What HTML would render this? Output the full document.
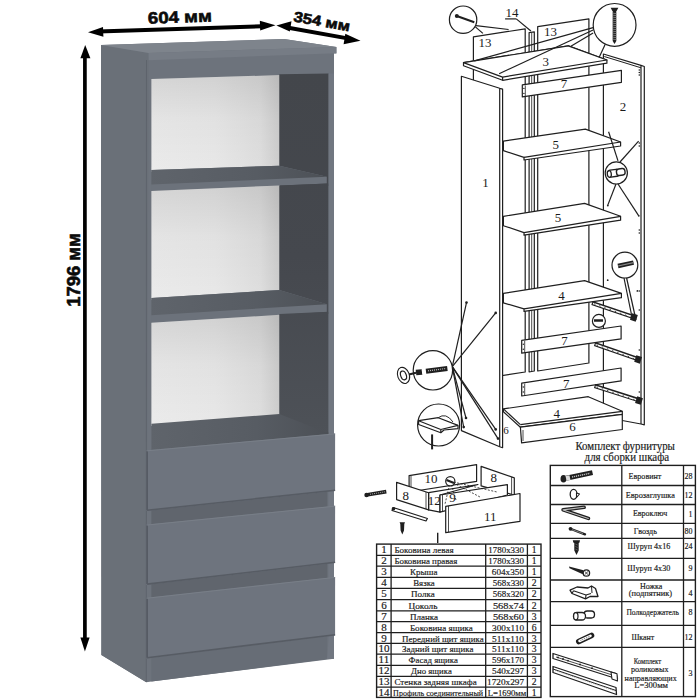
<!DOCTYPE html>
<html><head><meta charset="utf-8">
<style>
html,body{margin:0;padding:0;background:#fff;width:700px;height:700px;overflow:hidden}
svg{position:absolute;left:0;top:0;display:block}
.dim{font-family:"Liberation Sans",sans-serif;font-weight:bold;fill:#0a0a0a;stroke:#0a0a0a;stroke-width:0.6}
.lbl{font-family:"Liberation Serif",serif;fill:#1a1a1a}
.t{stroke:#1a1a1a;stroke-width:0.18}
</style></head><body>
<svg width="700" height="700" viewBox="0 0 700 700">
<defs>
<linearGradient id="wb" x1="0" y1="0" x2="1" y2="0">
<stop offset="0" stop-color="#ebebeb"/><stop offset="0.5" stop-color="#e8e8e8"/><stop offset="0.85" stop-color="#dedede"/><stop offset="1" stop-color="#cdcdcd"/>
</linearGradient>
<linearGradient id="sht" gradientUnits="userSpaceOnUse" x1="151" y1="0" x2="327" y2="0">
<stop offset="0" stop-color="#5f646b"/><stop offset="0.6" stop-color="#575c63"/><stop offset="1" stop-color="#4c5056"/>
</linearGradient>
<linearGradient id="wbv" x1="0" y1="0" x2="0" y2="1">
<stop offset="0" stop-color="#000" stop-opacity="0.10"/><stop offset="0.45" stop-color="#000" stop-opacity="0.03"/><stop offset="1" stop-color="#000" stop-opacity="0"/>
</linearGradient>
<linearGradient id="dk" gradientUnits="userSpaceOnUse" x1="0" y1="74" x2="0" y2="440">
<stop offset="0" stop-color="#43464b"/><stop offset="0.5" stop-color="#45484e"/><stop offset="1" stop-color="#4e5258"/>
</linearGradient>
</defs>
<rect width="700" height="700" fill="#fff"/>
<g id="bookcase">
<polygon points="101.0,45.0 284.0,39.0 336.4,47.0 336.4,53.5 334.0,53.5 334.0,658.8 151.4,681.6 146.3,682.2 101.4,655.0" fill="#6d737c" />
<polygon points="101.0,45.0 148.6,53.0 148.6,60.0 146.3,682.2 101.4,655.0" fill="#6a7078" />
<polygon points="101.0,45.0 284.0,39.0 336.4,47.0 148.6,53.0" fill="#7e848c" />
<polygon points="148.6,53.0 336.4,47.0 336.4,53.2 148.6,60.2" fill="#767c85" />
<line x1="146.5" y1="60.0" x2="146.3" y2="682.0" stroke="#5c6169" stroke-width="0.8" />
<polygon points="151.4,79.0 279.8,75.1 279.8,166.0 151.4,172.0" fill="url(#wb)" />
<polygon points="151.4,79.0 279.8,75.1 279.8,166.0 151.4,172.0" fill="url(#wbv)" />
<polygon points="279.3,74.2 328.6,73.6 328.6,186.0 279.3,186.0" fill="url(#dk)" />
<polygon points="151.4,170.0 279.3,165.7 326.8,176.8 326.8,183.6 151.4,191.4" fill="#6c727b" />
<polygon points="151.4,170.0 279.3,165.7 327.0,176.8 151.4,184.6" fill="url(#sht)" />
<polygon points="151.4,191.0 279.8,185.5 279.8,292.0 151.4,300.0" fill="url(#wb)" />
<polygon points="151.4,191.0 279.8,185.5 279.8,292.0 151.4,300.0" fill="url(#wbv)" />
<polygon points="279.3,185.5 328.6,183.4 328.6,314.0 279.3,314.0" fill="url(#dk)" />
<polygon points="151.4,298.0 279.3,290.0 326.8,304.3 326.8,312.0 151.4,322.9" fill="#6c727b" />
<polygon points="151.4,298.0 279.3,290.0 327.0,304.3 151.4,315.2" fill="url(#sht)" />
<polygon points="151.4,322.7 279.8,314.8 279.8,416.0 151.4,426.0" fill="url(#wb)" />
<polygon points="151.4,322.7 279.8,314.8 279.8,416.0 151.4,426.0" fill="url(#wbv)" />
<polygon points="279.3,314.0 328.6,311.8 328.6,440.0 279.3,440.0" fill="url(#dk)" />
<polygon points="151.4,423.7 279.3,414.1 325.3,432.1 328.6,432.1 328.6,445.0 151.4,460.0" fill="url(#sht)" />
<polygon points="328.6,73.6 334.0,73.4 334.0,658.8 327.0,659.0 328.6,640.0" fill="#717781" />
<polygon points="151.4,500.0 327.4,482.0 327.4,512.0 151.4,532.0" fill="#60656d" />
<polygon points="151.4,575.0 327.4,555.0 327.4,583.0 151.4,605.0" fill="#60656d" />
<polygon points="151.4,650.0 327.4,628.0 327.0,659.0 151.4,681.6" fill="#676d76" />
<polygon points="146.3,450.3 335.1,433.4 335.1,491.1 146.3,511.1" fill="#6e747e" />
<line x1="147.1" y1="451.3" x2="147.1" y2="510.3" stroke="#545961" stroke-width="1.6" />
<line x1="147.1" y1="510.3" x2="335.1" y2="490.3" stroke="#575c64" stroke-width="1.6" />
<line x1="147.3" y1="450.8" x2="335.1" y2="433.9" stroke="#7b818a" stroke-width="0.8" />
<polygon points="146.3,524.5 335.1,505.7 335.1,563.1 146.3,584.9" fill="#6e747e" />
<line x1="147.1" y1="525.5" x2="147.1" y2="584.1" stroke="#545961" stroke-width="1.6" />
<line x1="147.1" y1="584.1" x2="335.1" y2="562.3" stroke="#575c64" stroke-width="1.6" />
<line x1="147.3" y1="525.0" x2="335.1" y2="506.2" stroke="#7b818a" stroke-width="0.8" />
<polygon points="146.3,597.7 335.1,576.9 335.1,635.5 146.3,658.6" fill="#6e747e" />
<line x1="147.1" y1="598.7" x2="147.1" y2="657.8" stroke="#545961" stroke-width="1.6" />
<line x1="147.1" y1="657.8" x2="335.1" y2="634.7" stroke="#575c64" stroke-width="1.6" />
<line x1="147.3" y1="598.2" x2="335.1" y2="577.4" stroke="#7b818a" stroke-width="0.8" />
</g>
<g id="dims">
<line x1="98.0" y1="31.6" x2="262.0" y2="26.2" stroke="#000" stroke-width="4" />
<polygon points="88.0,32.3 103.0,27.0 103.4,36.8" fill="#000" />
<polygon points="275.5,25.3 259.8,20.8 260.2,30.4" fill="#000" />
<text class="dim" x="148" y="23.8" font-size="16.5" textLength="64" lengthAdjust="spacingAndGlyphs" transform="rotate(-2 148 23.8)">604 мм</text>
<line x1="287.0" y1="27.5" x2="349.0" y2="38.6" stroke="#000" stroke-width="4" />
<polygon points="276.4,25.4 291.5,21.2 289.8,31.6" fill="#000" />
<polygon points="360.5,40.8 345.3,33.8 343.6,44.2" fill="#000" />
<text class="dim" x="293" y="21.3" font-size="14.5" textLength="57" lengthAdjust="spacingAndGlyphs" transform="rotate(10.3 293 21.3)">354 мм</text>
<line x1="84.9" y1="56.0" x2="84.9" y2="640.0" stroke="#000" stroke-width="3.7" />
<polygon points="85.2,45.0 80.4,58.2 90.4,58.2" fill="#000" />
<polygon points="84.9,651.6 80.4,637.6 89.6,637.6" fill="#000" />
<text class="dim" x="79.6" y="306.8" font-size="17.5" textLength="73.4" lengthAdjust="spacingAndGlyphs" transform="rotate(-90 79.6 306.8)">1796 мм</text>
</g>
<g id="diagram">
<polygon points="473.4,36.9 525.2,28.8 525.2,372.0 473.4,380.0" fill="#fff" stroke="#1f1f1f" stroke-width="1.2" stroke-linejoin="round" />
<polygon points="537.7,26.6 588.9,18.9 588.9,363.0 537.7,371.0" fill="#fff" stroke="#1f1f1f" stroke-width="1.2" stroke-linejoin="round" />
<polygon points="529.1,32.6 534.3,31.8 534.3,371.0 529.1,372.0" fill="#fff" stroke="#1f1f1f" stroke-width="1.2" stroke-linejoin="round" />
<line x1="531.7" y1="33.0" x2="531.7" y2="371.0" stroke="#1f1f1f" stroke-width="0.8" />
<text class="lbl" x="484.9" y="47.3" font-size="12.96" text-anchor="middle" >13</text>
<text class="lbl" x="550.6" y="36.2" font-size="12.96" text-anchor="middle" >13</text>
<text class="lbl" x="512.0" y="17.2" font-size="12.96" text-anchor="middle" >14</text>
<line x1="505.1" y1="18.9" x2="516.3" y2="18.9" stroke="#1f1f1f" stroke-width="1.2" />
<line x1="516.3" y1="18.9" x2="530.9" y2="31.0" stroke="#1f1f1f" stroke-width="1.2" />
<polygon points="603.4,54.0 641.0,65.4 644.3,66.5 644.3,424.8 641.0,424.0 603.4,417.0" fill="#fff" stroke="#1f1f1f" stroke-width="1.2" stroke-linejoin="round" />
<line x1="641.0" y1="65.4" x2="641.0" y2="424.0" stroke="#1f1f1f" stroke-width="1.2" />
<line x1="604.3" y1="56.5" x2="641.0" y2="67.8" stroke="#1f1f1f" stroke-width="1.0" />
<circle cx="639.3" cy="70" r="0.8" fill="#1f1f1f"/>
<circle cx="639.3" cy="72.5" r="0.8" fill="#1f1f1f"/>
<circle cx="639.3" cy="75" r="0.8" fill="#1f1f1f"/>
<circle cx="639.3" cy="143" r="0.8" fill="#1f1f1f"/>
<circle cx="639.3" cy="146" r="0.8" fill="#1f1f1f"/>
<circle cx="639.3" cy="230" r="0.8" fill="#1f1f1f"/>
<circle cx="639.3" cy="233" r="0.8" fill="#1f1f1f"/>
<circle cx="639.3" cy="291" r="0.8" fill="#1f1f1f"/>
<circle cx="639.3" cy="310" r="0.8" fill="#1f1f1f"/>
<circle cx="639.3" cy="350" r="0.8" fill="#1f1f1f"/>
<circle cx="639.3" cy="392" r="0.8" fill="#1f1f1f"/>
<circle cx="639.3" cy="398" r="0.8" fill="#1f1f1f"/>
<text class="lbl" x="623.1" y="110.5" font-size="12.96" text-anchor="middle" >2</text>
<polygon points="461.4,76.3 499.7,88.3 502.6,89.1 502.6,447.7 499.7,446.8 461.4,430.6" fill="#fff" stroke="#1f1f1f" stroke-width="1.2" stroke-linejoin="round" />
<line x1="499.7" y1="88.3" x2="499.7" y2="446.8" stroke="#1f1f1f" stroke-width="1.2" />
<text class="lbl" x="485.4" y="186.5" font-size="12.96" text-anchor="middle" >1</text>
<polygon points="463.5,62.6 568.3,45.9 606.9,60.0 606.9,63.2 502.6,80.3 463.5,65.8" fill="#fff" stroke="#1f1f1f" stroke-width="1.2" stroke-linejoin="round" />
<polygon points="463.5,62.6 568.3,45.9 606.9,60.0 502.6,77.1" fill="#fff" stroke="#1f1f1f" stroke-width="1.2" stroke-linejoin="round" />
<line x1="502.6" y1="77.1" x2="502.6" y2="80.3" stroke="#1f1f1f" stroke-width="1.2" />
<text class="lbl" x="545.7" y="65.6" font-size="12.96" text-anchor="middle" >3</text>
<polygon points="522.3,84.9 621.4,70.3 621.4,82.3 522.3,96.9" fill="#fff" stroke="#1f1f1f" stroke-width="1.2" stroke-linejoin="round" />
<line x1="525.3" y1="85.4" x2="525.3" y2="96.4" stroke="#1f1f1f" stroke-width="0.8" />
<circle cx="523.9" cy="88.4" r="0.7" fill="#1f1f1f"/><circle cx="523.9" cy="93.4" r="0.7" fill="#1f1f1f"/>
<text class="lbl" x="564.0" y="88.2" font-size="12.96" text-anchor="middle" >7</text>
<polygon points="503.4,141.1 585.4,129.1 620.6,142.0 620.6,146.0 524.0,160.0 524.0,157.4 503.4,150.6" fill="#fff" stroke="#1f1f1f" stroke-width="1.2" stroke-linejoin="round" />
<line x1="524.0" y1="157.4" x2="620.6" y2="142.0" stroke="#1f1f1f" stroke-width="1.2" />
<text class="lbl" x="555.7" y="148.8" font-size="12.96" text-anchor="middle" >5</text>
<polygon points="503.4,216.3 584.6,203.4 620.6,216.3 620.6,220.2 524.0,235.1 524.0,232.6 503.4,225.7" fill="#fff" stroke="#1f1f1f" stroke-width="1.2" stroke-linejoin="round" />
<line x1="524.0" y1="232.6" x2="620.6" y2="216.3" stroke="#1f1f1f" stroke-width="1.2" />
<text class="lbl" x="558.0" y="222.2" font-size="12.96" text-anchor="middle" >5</text>
<polygon points="503.4,293.4 584.6,280.6 621.4,293.4 621.4,297.7 524.0,311.4 524.0,308.9 503.4,302.9" fill="#fff" stroke="#1f1f1f" stroke-width="1.2" stroke-linejoin="round" />
<line x1="524.0" y1="308.9" x2="621.4" y2="293.4" stroke="#1f1f1f" stroke-width="1.2" />
<text class="lbl" x="561.4" y="300.2" font-size="12.96" text-anchor="middle" >4</text>
<polygon points="521.7,340.3 621.1,326.0 621.1,338.9 521.7,353.1" fill="#fff" stroke="#1f1f1f" stroke-width="1.2" stroke-linejoin="round" />
<line x1="524.7" y1="340.8" x2="524.7" y2="352.6" stroke="#1f1f1f" stroke-width="0.8" />
<circle cx="523.3000000000001" cy="344.20000000000005" r="0.7" fill="#1f1f1f"/><circle cx="523.3000000000001" cy="349.20000000000005" r="0.7" fill="#1f1f1f"/>
<text class="lbl" x="564.6" y="345.3" font-size="12.96" text-anchor="middle" >7</text>
<polygon points="521.7,383.1 621.1,368.0 621.1,380.9 521.7,396.0" fill="#fff" stroke="#1f1f1f" stroke-width="1.2" stroke-linejoin="round" />
<line x1="524.7" y1="383.6" x2="524.7" y2="395.5" stroke="#1f1f1f" stroke-width="0.8" />
<circle cx="523.3000000000001" cy="387.05" r="0.7" fill="#1f1f1f"/><circle cx="523.3000000000001" cy="392.05" r="0.7" fill="#1f1f1f"/>
<text class="lbl" x="566.3" y="387.9" font-size="12.96" text-anchor="middle" >7</text>
<polygon points="503.4,408.9 588.3,396.7 622.3,411.3 622.3,414.3 520.4,427.2 503.4,411.8" fill="#fff" stroke="#1f1f1f" stroke-width="1.2" stroke-linejoin="round" />
<line x1="520.4" y1="424.6" x2="622.3" y2="411.3" stroke="#1f1f1f" stroke-width="1.2" />
<line x1="503.4" y1="408.9" x2="520.4" y2="424.6" stroke="#1f1f1f" stroke-width="1.2" />
<text class="lbl" x="556.8" y="418.0" font-size="12.96" text-anchor="middle" >4</text>
<polygon points="520.4,427.2 622.3,414.3 622.3,429.5 521.6,442.9" fill="#fff" stroke="#1f1f1f" stroke-width="1.2" stroke-linejoin="round" />
<line x1="523.0" y1="430.0" x2="523.0" y2="441.0" stroke="#1f1f1f" stroke-width="0.8" />
<text class="lbl" x="572.6" y="431.2" font-size="12.96" text-anchor="middle" >6</text>
<text class="lbl" x="506.0" y="433.5" font-size="11" text-anchor="middle" >6</text>
<line x1="592.0" y1="302.9" x2="634.9" y2="317.4" stroke="#1f1f1f" stroke-width="4.2" />
<line x1="593.0" y1="303.5" x2="632.9" y2="317.0" stroke="#fff" stroke-width="1.6" />
<line x1="594.0" y1="303.8" x2="631.9" y2="317.3" stroke="#1f1f1f" stroke-width="0.8" stroke-dasharray="1.5 4"/>
<rect x="630.9" y="313.9" width="6" height="7" fill="#1f1f1f" transform="rotate(18 633.9 317.4)"/>
<line x1="594.6" y1="344.0" x2="639.1" y2="359.4" stroke="#1f1f1f" stroke-width="4.2" />
<line x1="595.6" y1="344.6" x2="637.1" y2="359.0" stroke="#fff" stroke-width="1.6" />
<line x1="596.6" y1="344.9" x2="636.1" y2="359.3" stroke="#1f1f1f" stroke-width="0.8" stroke-dasharray="1.5 4"/>
<rect x="635.1" y="355.9" width="6" height="7" fill="#1f1f1f" transform="rotate(18 638.1 359.4)"/>
<line x1="594.6" y1="386.0" x2="640.0" y2="400.6" stroke="#1f1f1f" stroke-width="4.2" />
<line x1="595.6" y1="386.6" x2="638.0" y2="400.2" stroke="#fff" stroke-width="1.6" />
<line x1="596.6" y1="386.9" x2="637.0" y2="400.5" stroke="#1f1f1f" stroke-width="0.8" stroke-dasharray="1.5 4"/>
<rect x="636" y="397.1" width="6" height="7" fill="#1f1f1f" transform="rotate(18 639 400.6)"/>
<circle cx="598.9" cy="320.9" r="6.5" fill="#fff" stroke="#1f1f1f" stroke-width="1.2"/>
<line x1="594.0" y1="320.5" x2="603.0" y2="320.5" stroke="#1f1f1f" stroke-width="2.5" />
<circle cx="607.7" cy="280.2" r="0.9" fill="#1f1f1f"/><circle cx="637.4" cy="290.9" r="0.9" fill="#1f1f1f"/>
<circle cx="463.1" cy="19.7" r="13.7" fill="#fff" stroke="#1f1f1f" stroke-width="1.2"/>
<line x1="457.5" y1="16.2" x2="474.3" y2="22.3" stroke="#1f1f1f" stroke-width="2" />
<circle cx="456.8" cy="16" r="2" fill="#1f1f1f"/>
<line x1="476.0" y1="25.7" x2="508.6" y2="29.5" stroke="#1f1f1f" stroke-width="1.2" />
<line x1="475.1" y1="26.6" x2="482.9" y2="33.4" stroke="#1f1f1f" stroke-width="1.2" />
<line x1="593.1" y1="27.7" x2="474.3" y2="60.9" stroke="#1f1f1f" stroke-width="1.2" />
<line x1="593.1" y1="30.0" x2="499.1" y2="73.7" stroke="#1f1f1f" stroke-width="1.2" />
<line x1="593.1" y1="33.0" x2="570.9" y2="46.3" stroke="#1f1f1f" stroke-width="1.2" />
<line x1="605.1" y1="44.6" x2="599.1" y2="57.4" stroke="#1f1f1f" stroke-width="1.2" />
<circle cx="614.6" cy="24.9" r="21.4" fill="#fff" stroke="#1f1f1f" stroke-width="1.2"/>
<polygon points="610.6,7.7 618.4,7.7 616.6,11.0 612.4,11.0" fill="#1f1f1f" />
<line x1="614.5" y1="11.0" x2="614.5" y2="41.0" stroke="#1f1f1f" stroke-width="3.6" />
<polygon points="612.7,41.0 616.3,41.0 614.5,44.0" fill="#1f1f1f" />
<line x1="612.2" y1="13.0" x2="616.8" y2="13.8" stroke="#999" stroke-width="0.7" />
<line x1="612.2" y1="15.0" x2="616.8" y2="15.8" stroke="#999" stroke-width="0.7" />
<line x1="612.2" y1="17.0" x2="616.8" y2="17.8" stroke="#999" stroke-width="0.7" />
<line x1="612.2" y1="19.0" x2="616.8" y2="19.8" stroke="#999" stroke-width="0.7" />
<line x1="612.2" y1="21.0" x2="616.8" y2="21.8" stroke="#999" stroke-width="0.7" />
<line x1="612.2" y1="23.0" x2="616.8" y2="23.8" stroke="#999" stroke-width="0.7" />
<line x1="612.2" y1="25.0" x2="616.8" y2="25.8" stroke="#999" stroke-width="0.7" />
<line x1="612.2" y1="27.0" x2="616.8" y2="27.8" stroke="#999" stroke-width="0.7" />
<line x1="612.2" y1="29.0" x2="616.8" y2="29.8" stroke="#999" stroke-width="0.7" />
<line x1="612.2" y1="31.0" x2="616.8" y2="31.8" stroke="#999" stroke-width="0.7" />
<line x1="612.2" y1="33.0" x2="616.8" y2="33.8" stroke="#999" stroke-width="0.7" />
<line x1="612.2" y1="35.0" x2="616.8" y2="35.8" stroke="#999" stroke-width="0.7" />
<line x1="612.2" y1="37.0" x2="616.8" y2="37.8" stroke="#999" stroke-width="0.7" />
<line x1="612.2" y1="39.0" x2="616.8" y2="39.8" stroke="#999" stroke-width="0.7" />
<line x1="618.0" y1="160.9" x2="608.6" y2="131.7" stroke="#1f1f1f" stroke-width="1.2" />
<line x1="620.0" y1="162.0" x2="638.6" y2="141.1" stroke="#1f1f1f" stroke-width="1.2" />
<line x1="616.0" y1="184.0" x2="607.7" y2="205.4" stroke="#1f1f1f" stroke-width="1.2" />
<line x1="618.0" y1="184.0" x2="638.6" y2="215.7" stroke="#1f1f1f" stroke-width="1.2" />
<circle cx="616.3" cy="172.9" r="11.1" fill="#fff" stroke="#1f1f1f" stroke-width="1.2"/>
<rect x="608.5" y="169.8" width="10" height="7" rx="2" fill="#fff" stroke="#1f1f1f" stroke-width="1.4" transform="rotate(-8 613 173)"/>
<rect x="616.5" y="168.8" width="8.5" height="6.6" rx="2.5" fill="#fff" stroke="#1f1f1f" stroke-width="1.4" transform="rotate(-8 620 172)"/>
<ellipse cx="609.3" cy="174" rx="2" ry="3.3" fill="#fff" stroke="#1f1f1f" stroke-width="1.3" transform="rotate(-8 609.3 174)"/>
<circle cx="607.8" cy="205.6" r="0.9" fill="#1f1f1f"/><circle cx="638.8" cy="215.8" r="0.9" fill="#1f1f1f"/>
<line x1="626.6" y1="278.0" x2="636.0" y2="320.0" stroke="#1f1f1f" stroke-width="1.2" />
<line x1="624.0" y1="278.0" x2="632.6" y2="320.0" stroke="#1f1f1f" stroke-width="1.2" />
<circle cx="624.9" cy="265.1" r="12.9" fill="#fff" stroke="#1f1f1f" stroke-width="1.2"/>
<line x1="618.0" y1="266.0" x2="633.5" y2="262.6" stroke="#1f1f1f" stroke-width="4.5" />
<line x1="618.0" y1="266.0" x2="633.5" y2="262.6" stroke="#888" stroke-width="1.2" />
<line x1="452.3" y1="366.6" x2="466.5" y2="302.6" stroke="#1f1f1f" stroke-width="1.2" />
<circle cx="466.5" cy="302.6" r="1.3" fill="#1f1f1f"/>
<line x1="452.3" y1="366.6" x2="495.7" y2="312.9" stroke="#1f1f1f" stroke-width="1.2" />
<circle cx="495.7" cy="312.9" r="1.3" fill="#1f1f1f"/>
<line x1="452.3" y1="366.6" x2="466.0" y2="418.0" stroke="#1f1f1f" stroke-width="1.2" />
<circle cx="466" cy="418" r="1.3" fill="#1f1f1f"/>
<line x1="452.3" y1="366.6" x2="463.7" y2="427.1" stroke="#1f1f1f" stroke-width="1.2" />
<circle cx="463.7" cy="427.1" r="1.3" fill="#1f1f1f"/>
<line x1="452.3" y1="366.6" x2="495.7" y2="429.4" stroke="#1f1f1f" stroke-width="1.2" />
<circle cx="495.7" cy="429.4" r="1.3" fill="#1f1f1f"/>
<line x1="452.3" y1="366.6" x2="498.0" y2="438.6" stroke="#1f1f1f" stroke-width="1.2" />
<circle cx="498" cy="438.6" r="1.3" fill="#1f1f1f"/>
<circle cx="432.9" cy="370.3" r="19.7" fill="#fff" stroke="#1f1f1f" stroke-width="1.2"/>
<ellipse cx="403.5" cy="375.4" rx="5.8" ry="8.3" fill="none" stroke="#1f1f1f" stroke-width="1.1" transform="rotate(-20 403.5 375.4)"/>
<ellipse cx="403.5" cy="375.4" rx="2.8" ry="4.5" fill="none" stroke="#1f1f1f" stroke-width="1.2" transform="rotate(-20 403.5 375.4)"/>
<line x1="409.0" y1="374.5" x2="416.0" y2="372.8" stroke="#1f1f1f" stroke-width="2" />
<line x1="416.0" y1="372.6" x2="422.0" y2="371.9" stroke="#1f1f1f" stroke-width="5.5" />
<line x1="422.0" y1="371.9" x2="426.0" y2="371.4" stroke="#fff" stroke-width="3.5" />
<line x1="426.0" y1="371.3" x2="447.4" y2="368.6" stroke="#1f1f1f" stroke-width="5" />
<line x1="428.0" y1="370.8" x2="446.0" y2="368.5" stroke="#bbb" stroke-width="1.2" stroke-dasharray="1 1"/>
<circle cx="438.6" cy="425" r="21" fill="#fff" stroke="#1f1f1f" stroke-width="1.2"/>
<polygon points="418.6,420.7 438.3,417.7 458.0,425.4 458.0,428.6 444.0,430.0 440.8,432.7 418.6,424.5" fill="#fff" stroke="#1f1f1f" stroke-width="1.2" stroke-linejoin="round" />
<line x1="418.6" y1="420.7" x2="440.8" y2="429.5" stroke="#1f1f1f" stroke-width="1.2" />
<line x1="440.8" y1="429.5" x2="440.8" y2="432.7" stroke="#1f1f1f" stroke-width="1.2" />
<line x1="440.8" y1="429.5" x2="458.0" y2="425.4" stroke="#1f1f1f" stroke-width="1.2" />
<path d="M438,417.8 Q446,412 453,422" fill="none" stroke="#2b2b2b" stroke-width="1"/>
<line x1="432.1" y1="434.4" x2="432.1" y2="449.4" stroke="#1f1f1f" stroke-width="2" />
<polygon points="409.1,475.6 476.6,464.6 476.6,481.3 409.1,492.0" fill="#fff" stroke="#1f1f1f" stroke-width="1.2" stroke-linejoin="round" />
<line x1="411.0" y1="476.0" x2="411.0" y2="491.0" stroke="#1f1f1f" stroke-width="0.8" />
<text class="lbl" x="430.9" y="483.2" font-size="12.96" text-anchor="middle" >10</text>
<polygon points="481.1,466.4 514.3,477.9 514.3,495.0 481.1,485.9" fill="#fff" stroke="#1f1f1f" stroke-width="1.2" stroke-linejoin="round" />
<line x1="511.6" y1="477.0" x2="511.6" y2="494.2" stroke="#1f1f1f" stroke-width="0.8" />
<text class="lbl" x="493.7" y="482.1" font-size="12.96" text-anchor="middle" >8</text>
<polygon points="428.6,492.7 478.0,484.5 440.0,495.0 440.0,512.1 428.6,509.9" fill="#fff" stroke="#1f1f1f" stroke-width="1.2" stroke-linejoin="round" />
<polygon points="396.6,482.4 428.6,492.7 428.6,509.9 396.6,499.6" fill="#fff" stroke="#1f1f1f" stroke-width="1.2" stroke-linejoin="round" />
<line x1="426.0" y1="492.0" x2="426.0" y2="509.1" stroke="#1f1f1f" stroke-width="0.8" />
<text class="lbl" x="405.7" y="499.9" font-size="12.96" text-anchor="middle" >8</text>
<text class="lbl" x="434.3" y="504.5" font-size="12.96" text-anchor="middle" >12</text>
<polygon points="440.0,495.0 507.4,484.7 507.4,495.0 440.0,512.1" fill="#fff" stroke="#1f1f1f" stroke-width="1.2" stroke-linejoin="round" />
<line x1="442.5" y1="495.0" x2="442.5" y2="511.5" stroke="#1f1f1f" stroke-width="0.8" />
<text class="lbl" x="452.6" y="502.2" font-size="12.96" text-anchor="middle" >9</text>
<polygon points="445.7,506.4 520.0,493.5 520.0,521.3 445.7,532.7" fill="#fff" stroke="#1f1f1f" stroke-width="1.2" stroke-linejoin="round" />
<line x1="448.5" y1="506.0" x2="448.5" y2="532.2" stroke="#1f1f1f" stroke-width="0.8" />
<text class="lbl" x="490.3" y="520.9" font-size="12.96" text-anchor="middle" >11</text>
<line x1="450.3" y1="481.3" x2="445.0" y2="504.0" stroke="#1f1f1f" stroke-width="0.8" stroke-dasharray="2 1.5"/>
<line x1="450.3" y1="481.3" x2="456.0" y2="500.0" stroke="#1f1f1f" stroke-width="0.8" stroke-dasharray="2 1.5"/>
<line x1="450.3" y1="481.3" x2="480.0" y2="497.0" stroke="#1f1f1f" stroke-width="0.8" stroke-dasharray="2 1.5"/>
<line x1="450.3" y1="481.3" x2="497.0" y2="492.0" stroke="#1f1f1f" stroke-width="0.8" stroke-dasharray="2 1.5"/>
<circle cx="450.3" cy="481.3" r="4.6" fill="#fff" stroke="#1f1f1f" stroke-width="1.2"/>
<line x1="446.5" y1="480.0" x2="454.0" y2="483.0" stroke="#1f1f1f" stroke-width="2" />
<line x1="366.0" y1="495.0" x2="386.3" y2="491.6" stroke="#1f1f1f" stroke-width="3.6" />
<line x1="370.0" y1="494.3" x2="385.0" y2="491.8" stroke="#aaa" stroke-width="1" stroke-dasharray="1 1"/>
<circle cx="366.5" cy="495" r="2.2" fill="#1f1f1f"/>
<polygon points="393.1,507.5 427.4,518.5 426.0,521.0 392.0,510.5" fill="#fff" stroke="#1f1f1f" stroke-width="1.2" stroke-linejoin="round" />
<circle cx="393.5" cy="508.8" r="1.8" fill="#1f1f1f"/>
<polygon points="399.6,522.2 405.0,522.2 404.3,524.0 404.0,530.5 402.3,534.5 400.6,530.5 400.3,524.0" fill="#1f1f1f" />
<line x1="437.7" y1="532.7" x2="437.7" y2="543.0" stroke="#1f1f1f" stroke-width="1.4" />
<text class="lbl t" x="575.4" y="449.6" font-size="12" textLength="99.5" lengthAdjust="spacingAndGlyphs">Комплект фурнитуры</text>
<text class="lbl t" x="584.6" y="461.2" font-size="12" textLength="84.5" lengthAdjust="spacingAndGlyphs">для сборки шкафа</text>
<rect x="376.6" y="544.1" width="164.4" height="153.3" fill="#fff" stroke="#1e1e1e" stroke-width="1.4"/>
<line x1="391.1" y1="544.1" x2="391.1" y2="697.4" stroke="#1e1e1e" stroke-width="1.3" />
<line x1="485.7" y1="544.1" x2="485.7" y2="697.4" stroke="#1e1e1e" stroke-width="1.3" />
<line x1="527.4" y1="544.1" x2="527.4" y2="697.4" stroke="#1e1e1e" stroke-width="1.3" />
<line x1="376.6" y1="555.4" x2="541.0" y2="555.4" stroke="#1e1e1e" stroke-width="1.3" />
<line x1="376.6" y1="566.2" x2="541.0" y2="566.2" stroke="#1e1e1e" stroke-width="1.3" />
<line x1="376.6" y1="577.3" x2="541.0" y2="577.3" stroke="#1e1e1e" stroke-width="1.3" />
<line x1="376.6" y1="588.3" x2="541.0" y2="588.3" stroke="#1e1e1e" stroke-width="1.3" />
<line x1="376.6" y1="599.7" x2="541.0" y2="599.7" stroke="#1e1e1e" stroke-width="1.3" />
<line x1="376.6" y1="610.8" x2="541.0" y2="610.8" stroke="#1e1e1e" stroke-width="1.3" />
<line x1="376.6" y1="621.6" x2="541.0" y2="621.6" stroke="#1e1e1e" stroke-width="1.3" />
<line x1="376.6" y1="632.6" x2="541.0" y2="632.6" stroke="#1e1e1e" stroke-width="1.3" />
<line x1="376.6" y1="643.4" x2="541.0" y2="643.4" stroke="#1e1e1e" stroke-width="1.3" />
<line x1="376.6" y1="654.2" x2="541.0" y2="654.2" stroke="#1e1e1e" stroke-width="1.3" />
<line x1="376.6" y1="665.3" x2="541.0" y2="665.3" stroke="#1e1e1e" stroke-width="1.3" />
<line x1="376.6" y1="676.3" x2="541.0" y2="676.3" stroke="#1e1e1e" stroke-width="1.3" />
<line x1="376.6" y1="687.1" x2="541.0" y2="687.1" stroke="#1e1e1e" stroke-width="1.3" />
<text class="lbl t" x="383.9" y="553.1" font-size="11" text-anchor="middle">1</text>
<text class="lbl t" x="394.4" y="553.1" font-size="9.2" textLength="59.2" lengthAdjust="spacingAndGlyphs">Боковина левая</text>
<text class="lbl t" x="488.3" y="553.1" font-size="9.1" textLength="35.7" lengthAdjust="spacingAndGlyphs">1780x330</text>
<text class="lbl t" x="534.2" y="553.1" font-size="9.6" text-anchor="middle">1</text>
<text class="lbl t" x="383.9" y="564.4" font-size="11" text-anchor="middle">2</text>
<text class="lbl t" x="394.4" y="564.4" font-size="9.2" textLength="63" lengthAdjust="spacingAndGlyphs">Боковина правая</text>
<text class="lbl t" x="488.3" y="564.4" font-size="9.1" textLength="35.7" lengthAdjust="spacingAndGlyphs">1780x330</text>
<text class="lbl t" x="534.2" y="564.4" font-size="9.6" text-anchor="middle">1</text>
<text class="lbl t" x="383.9" y="575.2" font-size="11" text-anchor="middle">3</text>
<text class="lbl t" x="409.9" y="575.2" font-size="9.2" textLength="27.5" lengthAdjust="spacingAndGlyphs">Крыша</text>
<text class="lbl t" x="491.8" y="575.2" font-size="9.1" textLength="32.2" lengthAdjust="spacingAndGlyphs">604x350</text>
<text class="lbl t" x="534.2" y="575.2" font-size="9.6" text-anchor="middle">1</text>
<text class="lbl t" x="383.9" y="586.3" font-size="11" text-anchor="middle">4</text>
<text class="lbl t" x="413.2" y="586.3" font-size="9.2" textLength="21.6" lengthAdjust="spacingAndGlyphs">Вязка</text>
<text class="lbl t" x="492.8" y="586.3" font-size="9.1" textLength="31.2" lengthAdjust="spacingAndGlyphs">568x330</text>
<text class="lbl t" x="534.2" y="586.3" font-size="9.6" text-anchor="middle">2</text>
<text class="lbl t" x="383.9" y="597.3" font-size="11" text-anchor="middle">5</text>
<text class="lbl t" x="411.1" y="597.3" font-size="9.2" textLength="23.7" lengthAdjust="spacingAndGlyphs">Полка</text>
<text class="lbl t" x="492.8" y="597.3" font-size="9.1" textLength="31.2" lengthAdjust="spacingAndGlyphs">568x320</text>
<text class="lbl t" x="534.2" y="597.3" font-size="9.6" text-anchor="middle">2</text>
<text class="lbl t" x="383.9" y="608.7" font-size="11" text-anchor="middle">6</text>
<text class="lbl t" x="408.6" y="608.7" font-size="9.2" textLength="28.8" lengthAdjust="spacingAndGlyphs">Цоколь</text>
<text class="lbl t" x="492.9" y="608.7" font-size="9.1" textLength="31.1" lengthAdjust="spacingAndGlyphs">568x74</text>
<text class="lbl t" x="534.2" y="608.7" font-size="9.6" text-anchor="middle">2</text>
<text class="lbl t" x="383.9" y="619.8" font-size="11" text-anchor="middle">7</text>
<text class="lbl t" x="409.9" y="619.8" font-size="9.2" textLength="28.2" lengthAdjust="spacingAndGlyphs">Планка</text>
<text class="lbl t" x="492.9" y="619.8" font-size="9.1" textLength="31.1" lengthAdjust="spacingAndGlyphs">568x60</text>
<text class="lbl t" x="534.2" y="619.8" font-size="9.6" text-anchor="middle">3</text>
<text class="lbl t" x="383.9" y="630.6" font-size="11" text-anchor="middle">8</text>
<text class="lbl t" x="409.9" y="630.6" font-size="9.2" textLength="63" lengthAdjust="spacingAndGlyphs">Боковина ящика</text>
<text class="lbl t" x="492.1" y="630.6" font-size="9.1" textLength="31.9" lengthAdjust="spacingAndGlyphs">300x110</text>
<text class="lbl t" x="534.2" y="630.6" font-size="9.6" text-anchor="middle">6</text>
<text class="lbl t" x="383.9" y="641.6" font-size="11" text-anchor="middle">9</text>
<text class="lbl t" x="402.1" y="641.6" font-size="9.2" textLength="81.6" lengthAdjust="spacingAndGlyphs">Передний щит ящика</text>
<text class="lbl t" x="492.1" y="641.6" font-size="9.1" textLength="31.9" lengthAdjust="spacingAndGlyphs">511x110</text>
<text class="lbl t" x="534.2" y="641.6" font-size="9.6" text-anchor="middle">3</text>
<text class="lbl t" x="383.9" y="652.4" font-size="11" text-anchor="middle">10</text>
<text class="lbl t" x="402.1" y="652.4" font-size="9.2" textLength="71.3" lengthAdjust="spacingAndGlyphs">Задний щит ящика</text>
<text class="lbl t" x="492.1" y="652.4" font-size="9.1" textLength="31.9" lengthAdjust="spacingAndGlyphs">511x110</text>
<text class="lbl t" x="534.2" y="652.4" font-size="9.6" text-anchor="middle">3</text>
<text class="lbl t" x="383.9" y="663.2" font-size="11" text-anchor="middle">11</text>
<text class="lbl t" x="408.6" y="663.2" font-size="9.2" textLength="49.3" lengthAdjust="spacingAndGlyphs">Фасад ящика</text>
<text class="lbl t" x="492.1" y="663.2" font-size="9.1" textLength="31.9" lengthAdjust="spacingAndGlyphs">596x170</text>
<text class="lbl t" x="534.2" y="663.2" font-size="9.6" text-anchor="middle">3</text>
<text class="lbl t" x="383.9" y="674.3" font-size="11" text-anchor="middle">12</text>
<text class="lbl t" x="411.1" y="674.3" font-size="9.2" textLength="40.7" lengthAdjust="spacingAndGlyphs">Дно ящика</text>
<text class="lbl t" x="492.1" y="674.3" font-size="9.1" textLength="31.9" lengthAdjust="spacingAndGlyphs">540x297</text>
<text class="lbl t" x="534.2" y="674.3" font-size="9.6" text-anchor="middle">3</text>
<text class="lbl t" x="383.9" y="685.3" font-size="11" text-anchor="middle">13</text>
<text class="lbl t" x="394.4" y="685.3" font-size="9.2" textLength="82.3" lengthAdjust="spacingAndGlyphs">Стенка задняя шкафа</text>
<text class="lbl t" x="487" y="685.3" font-size="9.1" textLength="37.0" lengthAdjust="spacingAndGlyphs">1720x297</text>
<text class="lbl t" x="534.2" y="685.3" font-size="9.6" text-anchor="middle">2</text>
<text class="lbl t" x="383.9" y="696.1" font-size="11" text-anchor="middle">14</text>
<text class="lbl t" x="393.1" y="696.1" font-size="9.2" textLength="90" lengthAdjust="spacingAndGlyphs">Профиль соединительный</text>
<text class="lbl t" x="487.8" y="696.1" font-size="9.1" textLength="38.5" lengthAdjust="spacingAndGlyphs">L=1690мм</text>
<text class="lbl t" x="534.2" y="696.1" font-size="9.6" text-anchor="middle">1</text>
<rect x="550.3" y="465.4" width="145.1" height="231.2" fill="#fff" stroke="#1e1e1e" stroke-width="1.4"/>
<line x1="621.8" y1="465.4" x2="621.8" y2="696.6" stroke="#1e1e1e" stroke-width="1.3" />
<line x1="683.5" y1="465.4" x2="683.5" y2="696.6" stroke="#1e1e1e" stroke-width="1.3" />
<line x1="550.3" y1="485.5" x2="695.4" y2="485.5" stroke="#1e1e1e" stroke-width="1.3" />
<line x1="550.3" y1="504.5" x2="695.4" y2="504.5" stroke="#1e1e1e" stroke-width="1.3" />
<line x1="550.3" y1="523.3" x2="695.4" y2="523.3" stroke="#1e1e1e" stroke-width="1.3" />
<line x1="550.3" y1="538.4" x2="695.4" y2="538.4" stroke="#1e1e1e" stroke-width="1.3" />
<line x1="550.3" y1="558.3" x2="695.4" y2="558.3" stroke="#1e1e1e" stroke-width="1.3" />
<line x1="550.3" y1="580.0" x2="695.4" y2="580.0" stroke="#1e1e1e" stroke-width="1.3" />
<line x1="550.3" y1="601.7" x2="695.4" y2="601.7" stroke="#1e1e1e" stroke-width="1.3" />
<line x1="550.3" y1="625.3" x2="695.4" y2="625.3" stroke="#1e1e1e" stroke-width="1.3" />
<line x1="550.3" y1="647.4" x2="695.4" y2="647.4" stroke="#1e1e1e" stroke-width="1.3" />
<text class="lbl t" x="628.6" y="478.6" font-size="8.7" textLength="32.8" lengthAdjust="spacingAndGlyphs">Евровинт</text>
<text class="lbl t" x="684.4" y="478.6" font-size="9" textLength="8.0" lengthAdjust="spacingAndGlyphs">28</text>
<text class="lbl t" x="625.7" y="497.9" font-size="8.7" textLength="49.2" lengthAdjust="spacingAndGlyphs">Еврозаглушка</text>
<text class="lbl t" x="684.4" y="497.9" font-size="9" textLength="8.0" lengthAdjust="spacingAndGlyphs">12</text>
<text class="lbl t" x="632.9" y="515.9" font-size="8.7" textLength="34.3" lengthAdjust="spacingAndGlyphs">Евроключ</text>
<text class="lbl t" x="688.4" y="517.2" font-size="9" textLength="4.0" lengthAdjust="spacingAndGlyphs">1</text>
<text class="lbl t" x="633.8" y="533.9" font-size="8.7" textLength="23.1" lengthAdjust="spacingAndGlyphs">Гвоздь</text>
<text class="lbl t" x="684.4" y="533.9" font-size="9" textLength="8.0" lengthAdjust="spacingAndGlyphs">80</text>
<text class="lbl t" x="627.4" y="548.7" font-size="8.7" textLength="42.9" lengthAdjust="spacingAndGlyphs">Шуруп 4х16</text>
<text class="lbl t" x="684.4" y="548.7" font-size="9" textLength="8.0" lengthAdjust="spacingAndGlyphs">24</text>
<text class="lbl t" x="627.3" y="570.9" font-size="8.7" textLength="43.0" lengthAdjust="spacingAndGlyphs">Шуруп 4х30</text>
<text class="lbl t" x="688.4" y="570.9" font-size="9" textLength="4.0" lengthAdjust="spacingAndGlyphs">9</text>
<text class="lbl t" x="639.9" y="589.1" font-size="8.7" textLength="22.4" lengthAdjust="spacingAndGlyphs">Ножка</text>
<text class="lbl t" x="628.7" y="596.4" font-size="8.7" textLength="43.4" lengthAdjust="spacingAndGlyphs">(подпятник)</text>
<text class="lbl t" x="688.4" y="596" font-size="9" textLength="4.0" lengthAdjust="spacingAndGlyphs">4</text>
<text class="lbl t" x="626.4" y="614.7" font-size="8.7" textLength="52.6" lengthAdjust="spacingAndGlyphs">Полкодержатель</text>
<text class="lbl t" x="688.4" y="614.7" font-size="9" textLength="4.0" lengthAdjust="spacingAndGlyphs">8</text>
<text class="lbl t" x="631.4" y="639.9" font-size="8.7" textLength="22.9" lengthAdjust="spacingAndGlyphs">Шкант</text>
<text class="lbl t" x="684.4" y="639.9" font-size="9" textLength="8.0" lengthAdjust="spacingAndGlyphs">12</text>
<text class="lbl t" x="633.7" y="664.1" font-size="8.7" textLength="27.4" lengthAdjust="spacingAndGlyphs">Комплект</text>
<text class="lbl t" x="631" y="672.2" font-size="8.7" textLength="37.5" lengthAdjust="spacingAndGlyphs">роликовых</text>
<text class="lbl t" x="624.6" y="680.6" font-size="8.7" textLength="52.1" lengthAdjust="spacingAndGlyphs">направляющих</text>
<text class="lbl t" x="634.2" y="688.2" font-size="8.7" textLength="33.8" lengthAdjust="spacingAndGlyphs">L=300мм</text>
<text class="lbl t" x="688.4" y="676" font-size="9" textLength="4.0" lengthAdjust="spacingAndGlyphs">3</text>
<line x1="566.0" y1="478.2" x2="592.5" y2="472.6" stroke="#1f1f1f" stroke-width="5" />
<line x1="572.0" y1="477.0" x2="590.0" y2="473.3" stroke="#bbb" stroke-width="1.4" stroke-dasharray="1.2 0.8"/>
<ellipse cx="563.5" cy="478.8" rx="3" ry="3.8" fill="#1f1f1f"/>
<rect x="566" y="475.5" width="4" height="5" fill="#ddd" transform="rotate(-12 568 478)"/>
<ellipse cx="573.6" cy="494.3" rx="3.4" ry="5" fill="#fff" stroke="#1f1f1f" stroke-width="1.3"/>
<polygon points="576.5,493.0 579.5,494.0 576.5,497.5" fill="#fff" stroke="#1f1f1f" stroke-width="1.1" stroke-linejoin="round" />
<path d="M584.1,507.3 L563.1,509.9 L588.4,518.4" fill="none" stroke="#1f1f1f" stroke-width="3.6" stroke-linecap="round" stroke-linejoin="round"/>
<path d="M584.1,507.3 L563.1,509.9 L588.4,518.4" fill="none" stroke="#bbb" stroke-width="1.1" stroke-linecap="round" stroke-linejoin="round"/>
<line x1="571.0" y1="529.0" x2="585.0" y2="534.3" stroke="#1f1f1f" stroke-width="2.4" stroke-linecap="round"/>
<line x1="572.0" y1="529.5" x2="583.0" y2="533.6" stroke="#aaa" stroke-width="0.7" />
<circle cx="570.5" cy="528.8" r="1.9" fill="#1f1f1f"/>
<polygon points="572.8,540.2 580.0,540.2 579.5,542.4 578.7,543.0 578.7,550.5 576.5,555.0 574.3,550.5 574.3,543.0 573.3,542.4" fill="#1f1f1f" />
<line x1="575.3" y1="544.0" x2="577.7" y2="545.0" stroke="#888" stroke-width="0.5" />
<line x1="575.3" y1="546.5" x2="577.7" y2="547.5" stroke="#888" stroke-width="0.5" />
<line x1="575.3" y1="549.0" x2="577.7" y2="550.0" stroke="#888" stroke-width="0.5" />
<polygon points="569.0,566.6 583.5,570.2 582.8,574.2 569.5,568.2" fill="#1f1f1f" />
<circle cx="586.4" cy="573" r="3.2" fill="#fff" stroke="#1f1f1f" stroke-width="1.3"/>
<line x1="584.8" y1="571.5" x2="588.0" y2="574.5" stroke="#1f1f1f" stroke-width="0.8" />
<line x1="584.8" y1="574.5" x2="588.0" y2="571.5" stroke="#1f1f1f" stroke-width="0.8" />
<polygon points="570.0,590.2 577.0,587.0 588.0,588.0 591.5,586.0 595.5,588.5 598.0,596.5 590.0,596.5 585.5,598.8 572.0,593.5" fill="#fff" stroke="#1f1f1f" stroke-width="1.3" stroke-linejoin="round" />
<line x1="572.0" y1="593.5" x2="573.5" y2="590.8" stroke="#1f1f1f" stroke-width="1.1" />
<line x1="573.5" y1="590.8" x2="586.0" y2="595.0" stroke="#1f1f1f" stroke-width="1.1" />
<line x1="586.0" y1="595.0" x2="585.5" y2="598.8" stroke="#1f1f1f" stroke-width="1.1" />
<line x1="586.0" y1="595.0" x2="591.0" y2="593.5" stroke="#1f1f1f" stroke-width="1.1" />
<line x1="591.5" y1="586.0" x2="592.0" y2="593.0" stroke="#1f1f1f" stroke-width="1.0" />
<rect x="584" y="611" width="10.5" height="7" rx="3.2" fill="#fff" stroke="#1f1f1f" stroke-width="1.3"/>
<rect x="573.5" y="612.5" width="12" height="7.5" rx="3.5" fill="#fff" stroke="#1f1f1f" stroke-width="1.3"/>
<ellipse cx="575.8" cy="616.2" rx="2.2" ry="3.6" fill="#fff" stroke="#1f1f1f" stroke-width="1.2"/>
<line x1="578.8" y1="641.5" x2="591.5" y2="635.5" stroke="#1f1f1f" stroke-width="5.6" stroke-linecap="round"/>
<line x1="579.5" y1="641.0" x2="590.5" y2="635.9" stroke="#fff" stroke-width="2.6" stroke-linecap="round"/>
<line x1="580.5" y1="640.5" x2="590.0" y2="636.2" stroke="#1f1f1f" stroke-width="0.7" stroke-dasharray="1 1"/>
<polygon points="553.0,653.5 616.0,673.5 617.5,679.0 553.0,658.5" fill="#fff" stroke="#1f1f1f" stroke-width="1.3" stroke-linejoin="round" />
<line x1="556.0" y1="657.0" x2="614.0" y2="675.5" stroke="#1f1f1f" stroke-width="0.8" />
<circle cx="558" cy="657.4" r="0.9" fill="#1f1f1f"/>
<circle cx="563" cy="659.0" r="0.9" fill="#1f1f1f"/>
<circle cx="568" cy="660.6" r="0.9" fill="#1f1f1f"/>
<circle cx="580" cy="664.4" r="0.9" fill="#1f1f1f"/>
<circle cx="592" cy="668.2" r="0.9" fill="#1f1f1f"/>
<polygon points="611.0,672.0 617.0,673.8 617.5,681.0 612.0,679.0" fill="#fff" stroke="#1f1f1f" stroke-width="1.1" stroke-linejoin="round" />
<polygon points="553.0,666.5 616.0,687.5 616.5,694.5 553.0,672.5" fill="#fff" stroke="#1f1f1f" stroke-width="1.3" stroke-linejoin="round" />
<line x1="553.0" y1="669.0" x2="616.0" y2="690.5" stroke="#1f1f1f" stroke-width="1.0" />
<line x1="555.0" y1="670.5" x2="615.0" y2="691.0" stroke="#777" stroke-width="0.6" stroke-dasharray="1 1"/>
</g>
</svg>
</body></html>
